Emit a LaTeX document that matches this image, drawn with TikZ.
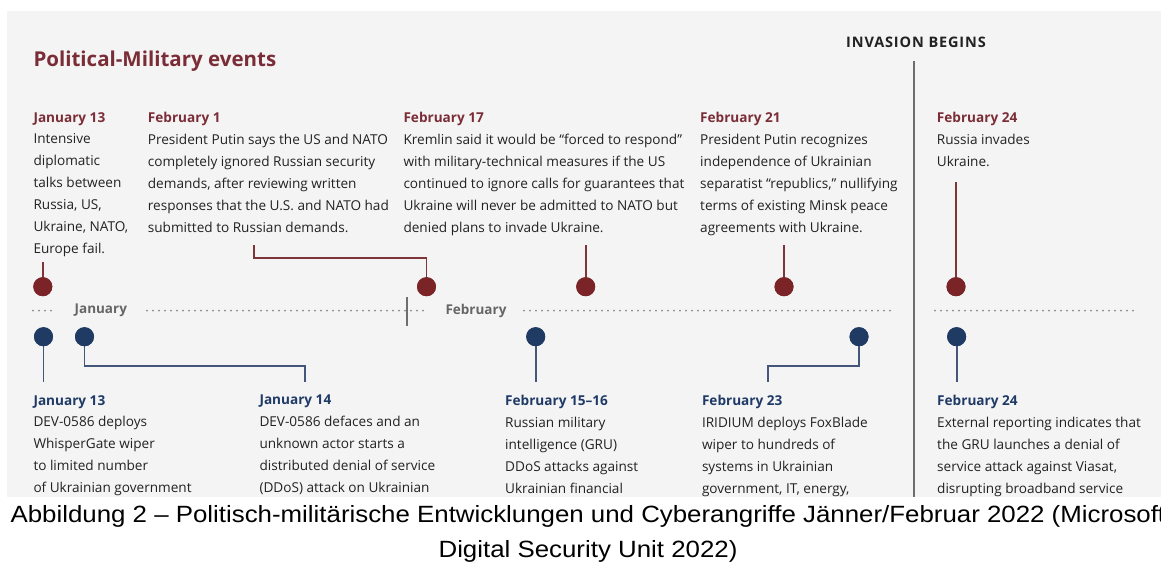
\documentclass[tikz,border=0pt]{standalone}
\usepackage{fontspec}
\setmainfont{Open Sans}
\newfontfamily\capfont{Liberation Sans}[FakeStretch=1.1]
\newfontfamily\invfont{Open Sans}[LetterSpace=6]
\definecolor{bggray}{HTML}{F4F4F4}
\definecolor{pmred}{HTML}{7B2D37}
\definecolor{dotred}{HTML}{7A2428}
\definecolor{linered}{HTML}{7E3539}
\definecolor{cyblue}{HTML}{1F3A66}
\definecolor{dotblue}{HTML}{1F3A63}
\definecolor{lineblue}{HTML}{44567A}
\definecolor{bodytxt}{HTML}{222222}
\definecolor{tlgray}{HTML}{8A8A8A}
\definecolor{monthgray}{HTML}{666666}
\definecolor{divgray}{HTML}{6E6E6E}
\tikzset{
  evt/.style={anchor=north west, inner sep=0pt, align=left, text=bodytxt,
    font=\fontsize{13.6}{21.9}\selectfont},
  rdot/.style={circle, fill=dotred, inner sep=0pt, minimum size=19pt},
  bdot/.style={circle, fill=dotblue, inner sep=0pt, minimum size=19pt},
  rconn/.style={draw=linered, line width=1.8pt},
  bconn/.style={draw=lineblue, line width=1.8pt},
  tldots/.style={draw=tlgray, line width=2pt, line cap=round, dash pattern=on 0pt off 6pt},
  month/.style={inner sep=0pt, text=monthgray, font=\fontsize{13.5}{16}\selectfont\bfseries},
  caption/.style={inner sep=0pt, anchor=base, text=black, font=\capfont\fontsize{23.5}{28}\selectfont}
}
\newcommand{\redhead}[1]{{\bfseries\color{pmred}#1}}
\newcommand{\bluehead}[1]{{\bfseries\color{cyblue}#1}}
\begin{document}
\begin{tikzpicture}[x=1pt,y=-1pt]
\useasboundingbox (0,0) rectangle (1161,587);
\fill[white] (0,0) rectangle (1161,587);
\fill[bggray] (7,11) rectangle (1161,497);

% title and invasion label
\node[anchor=base west, inner sep=0pt, text=pmred, font=\fontsize{20.5}{24}\selectfont\bfseries] (title) at (33.3,66) {Political-Military events};
\node[inner sep=0pt, text=bodytxt, font=\invfont\fontsize{14.5}{16}\selectfont\bfseries] (inv) at (916,42.7) {INVASION BEGINS};
\coordinate (divtop) at (913.7,61);
\coordinate (divbot) at (913.7,497);
\draw[divgray, line width=2pt] (divtop) -- (divbot);

% top events
\node[evt] (t1) at (33.3,112) {\redhead{January 13}\\Intensive\\diplomatic\\talks between\\Russia, US,\\Ukraine, NATO,\\Europe fail.};
\node[evt] (t2) at (147.7,112) {\redhead{February 1}\\President Putin says the US and NATO\\completely ignored Russian security\\demands, after reviewing written\\responses that the U.S. and NATO had\\submitted to Russian demands.};
\node[evt] (t3) at (403.3,112) {\redhead{February 17}\\Kremlin said it would be “forced to respond”\\with military-technical measures if the US\\continued to ignore calls for guarantees that\\Ukraine will never be admitted to NATO but\\denied plans to invade Ukraine.};
\node[evt] (t4) at (700,112) {\redhead{February 21}\\President Putin recognizes\\independence of Ukrainian\\separatist “republics,” nullifying\\terms of existing Minsk peace\\agreements with Ukraine.};
\node[evt] (t5) at (936.7,112) {\redhead{February 24}\\Russia invades\\Ukraine.};

% bottom events
\node[evt] (c1) at (33.3,395) {\bluehead{January 13}\\DEV-0586 deploys\\WhisperGate wiper\\to limited number\\of Ukrainian government};
\node[evt] (c2) at (259.3,395) {\bluehead{January 14}\\DEV-0586 defaces and an\\unknown actor starts a\\distributed denial of service\\(DDoS) attack on Ukrainian};
\node[evt] (c3) at (505,395) {\bluehead{February 15–16}\\Russian military\\intelligence (GRU)\\DDoS attacks against\\Ukrainian financial};
\node[evt] (c4) at (701.8,395) {\bluehead{February 23}\\IRIDIUM deploys FoxBlade\\wiper to hundreds of\\systems in Ukrainian\\government, IT, energy,};
\node[evt] (c5) at (937,395) {\bluehead{February 24}\\External reporting indicates that\\the GRU launches a denial of\\service attack against Viasat,\\disrupting broadband service};

% timeline
\coordinate (d1a) at (33,310.7); \coordinate (d1b) at (57,310.7);
\coordinate (d2a) at (147,310.7); \coordinate (d2b) at (428,310.7);
\coordinate (d3a) at (524,310.7); \coordinate (d3b) at (892,310.7);
\coordinate (d4a) at (935,310.7); \coordinate (d4b) at (1137,310.7);
\draw[tldots] (d1a) -- (d1b);
\draw[tldots] (d2a) -- (d2b);
\draw[tldots] (d3a) -- (d3b);
\draw[tldots] (d4a) -- (d4b);
\node[month] (jan) at (100.8,310.7) {January};
\node[month] (feb) at (476,310.7) {February};
\coordinate (ticka) at (406.7,297.3);
\coordinate (tickb) at (406.7,326.3);
\draw[divgray, line width=1.6pt] (ticka) -- (tickb);

% red connectors
\coordinate (rt1) at (42.8,262);
\coordinate (rt2) at (254,245);
\coordinate (rk2a) at (254,258.3);
\coordinate (rk2b) at (426.5,258.3);
\coordinate (rt3) at (585.7,245);
\coordinate (rt4) at (784,245);
\coordinate (rt5) at (956,182);
\node[rdot] (r1) at (42.8,286.7) {};
\node[rdot] (r2) at (426.5,286.7) {};
\node[rdot] (r3) at (585.7,286.7) {};
\node[rdot] (r4) at (784,286.7) {};
\node[rdot] (r5) at (956,286.7) {};
\draw[rconn] (rt1) -- (r1.center);
\draw[rconn] (rt2) -- (rk2a) -- (rk2b) -- (r2.center);
\draw[rconn] (rt3) -- (r3.center);
\draw[rconn] (rt4) -- (r4.center);
\draw[rconn] (rt5) -- (r5.center);
\node[rdot] at (r1.center) {};
\node[rdot] at (r2.center) {};
\node[rdot] at (r3.center) {};
\node[rdot] at (r4.center) {};
\node[rdot] at (r5.center) {};

% blue connectors
\node[bdot] (b1) at (43.5,336.7) {};
\node[bdot] (b2) at (84.5,336.7) {};
\node[bdot] (b3) at (535.7,336.7) {};
\node[bdot] (b4) at (859,336.7) {};
\node[bdot] (b5) at (956.6,336.7) {};
\coordinate (be1) at (43.5,382);
\coordinate (bk2a) at (84.5,366);
\coordinate (bk2b) at (305,366);
\coordinate (be2) at (305,382);
\coordinate (be3) at (535.7,382);
\coordinate (bk4a) at (859,366);
\coordinate (bk4b) at (768,366);
\coordinate (be4) at (768,382);
\coordinate (be5) at (956.6,382);
\draw[bconn] (b1.center) -- (be1);
\draw[bconn] (b2.center) -- (bk2a) -- (bk2b) -- (be2);
\draw[bconn] (b3.center) -- (be3);
\draw[bconn] (b4.center) -- (bk4a) -- (bk4b) -- (be4);
\draw[bconn] (b5.center) -- (be5);
\node[bdot] at (b1.center) {};
\node[bdot] at (b2.center) {};
\node[bdot] at (b3.center) {};
\node[bdot] at (b4.center) {};
\node[bdot] at (b5.center) {};

% caption
\node[caption] (cap1) at (588,522) {Abbildung 2 – Politisch-militärische Entwicklungen und Cyberangriffe Jänner/Februar 2022 (Microsoft};
\node[caption] (cap2) at (588,557) {Digital Security Unit 2022)};
\end{tikzpicture}
\end{document}
